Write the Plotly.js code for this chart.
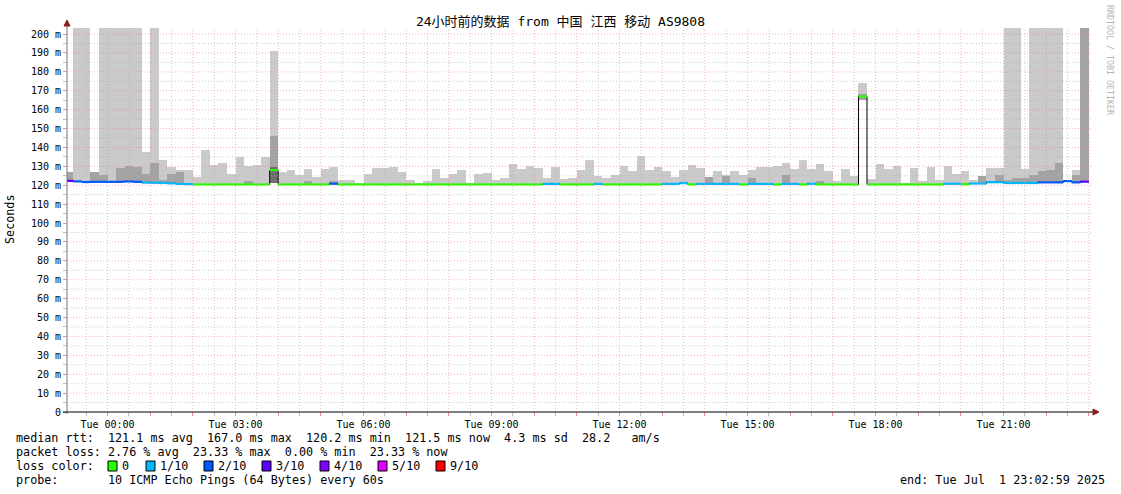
<!DOCTYPE html>
<html><head><meta charset="utf-8">
<script src="https://cdn.plot.ly/plotly-3.0.1.min.js"></script>
<style>html,body{margin:0;padding:0;background:#fff;}#chart{width:1121px;height:494px;}</style>
</head><body><div id="chart"></div>
<script>
// ---------- data (12-minute bins, first bin starts Mon 23:00, i.e. hour -1 relative to Tue 00:00) ----------
const firstBinHour = -1;
const binHours = 0.2;
const medianMs = [
122.3,122.0,121.7,121.8,121.8,121.8,121.8,122.0,121.8,121.4,
121.3,121.2,121.0,120.7,120.6,120.4,120.4,120.4,120.4,120.4,
120.4,120.4,120.4,120.4,128.0,120.4,120.4,120.4,120.4,120.4,
120.4,120.8,120.4,120.4,120.4,120.4,120.4,120.4,120.4,120.4,
120.4,120.4,120.4,120.4,120.4,120.4,120.4,120.4,120.4,120.4,
120.4,120.4,120.4,120.4,120.4,120.4,120.7,120.7,120.4,120.4,
120.4,120.4,120.7,120.4,120.4,120.4,120.4,120.4,120.4,120.4,
120.7,120.7,121.1,120.4,120.7,120.7,120.7,120.7,120.7,120.4,
120.7,120.7,120.7,120.4,120.7,120.7,120.4,120.8,120.4,120.4,
120.4,120.4,120.4,167.0,120.4,120.4,120.4,120.4,120.4,120.4,
120.4,120.4,120.4,120.8,120.8,120.5,120.9,120.9,121.6,121.6,
121.2,121.2,121.2,121.2,121.5,121.5,121.5,122.2,121.5,121.9];
const lossTenths = [
3,2,2,2,2,2,2,2,2,1,
1,1,1,1,1,0,0,0,0,0,
0,0,0,0,0,0,0,0,0,0,
0,2,0,0,0,0,0,0,0,0,
0,0,0,0,0,0,0,0,0,0,
0,0,0,0,0,0,1,1,0,0,
0,0,1,0,0,0,0,0,0,0,
1,1,1,0,1,1,1,1,1,0,
1,1,1,0,1,1,0,1,0,0,
0,0,0,0,0,0,0,0,0,0,
0,0,0,1,1,0,1,1,1,1,
1,1,1,1,2,2,2,2,2,3];
const smokeMaxMs = [
126.9,210,210,126.9,210,210,210,210,210,137.5,
210,133.2,129.8,127.9,127.9,124.1,138.6,130.5,131.6,125.9,
134.8,130.0,130.7,134.8,191.0,126.8,127.9,125.4,128.4,124.3,
128.4,129.6,123.0,123.0,121.4,125.7,128.9,128.9,129.6,126.8,
123.0,121.1,122.0,128.4,123.6,126.2,127.9,121.4,126.2,126.3,
122.6,123.7,131.0,128.5,130.1,129.0,123.7,129.6,123.1,123.7,
128.0,133.3,124.9,123.7,125.3,130.1,127.4,135.4,127.9,129.6,
127.4,124.2,127.9,130.6,129.0,124.2,127.3,125.5,127.3,125.2,
127.9,129.5,129.5,130.0,131.6,128.4,133.2,128.4,131.1,127.3,
122.0,128.6,124.9,174.0,123.2,131.2,128.5,130.1,121.0,129.1,
122.0,129.6,122.8,130.2,125.9,127.5,122.8,124.9,128.9,128.9,
210,210,128.5,210,210,210,210,122.6,128.0,210];
const smokeMidMs = [
126.9,null,null,126.9,125.5,null,129.1,130.0,129.6,125.7,
131.6,122.9,125.7,126.8,null,null,null,null,null,null,
null,122.0,null,null,146.0,null,null,null,122.5,null,
null,122.5,null,null,null,null,null,null,null,null,
null,null,null,null,null,null,null,null,null,null,
null,null,null,null,null,null,null,null,null,null,
null,null,null,null,null,null,null,null,null,null,
null,null,null,null,null,124.2,null,125.0,null,null,
123.6,null,null,null,125.2,null,null,null,122.5,null,
null,null,null,168.3,null,null,null,null,null,null,
null,null,null,null,null,null,null,124.9,null,125.2,
122.8,123.6,123.7,125.3,127.4,128.0,131.7,null,125.3,210];
const smokeMinMs = [
122.3,122.0,121.7,121.8,121.8,121.8,121.8,122.0,121.8,121.4,
121.3,121.2,121.0,120.7,120.6,120.4,120.4,120.4,120.4,120.4,
120.4,120.4,120.4,120.4,121.0,120.4,120.4,120.4,120.4,120.4,
120.4,120.8,120.4,120.4,120.4,120.4,120.4,120.4,120.4,120.4,
120.4,120.4,120.4,120.4,120.4,120.4,120.4,120.4,120.4,120.4,
120.4,120.4,120.4,120.4,120.4,120.4,120.7,120.7,120.4,120.4,
120.4,120.4,120.7,120.4,120.4,120.4,120.4,120.4,120.4,120.4,
120.7,120.7,121.1,120.4,120.7,120.7,120.7,120.7,120.7,120.4,
120.7,120.7,120.7,120.4,120.7,120.7,120.4,120.8,120.4,120.4,
120.4,120.4,120.4,165.0,120.4,120.4,120.4,120.4,120.4,120.4,
120.4,120.4,120.4,120.8,120.8,120.5,120.9,120.9,121.6,121.6,
121.2,121.2,121.2,121.2,121.5,121.5,121.5,122.2,121.5,121.9];
const coreBinIndex = [24];
const coreMinMs = [121.0];
const coreTopMs = [129.5];

const lossLegendLabels = ['0','1/10','2/10','3/10','4/10','5/10','9/10'];
const lossLegendTenths = [0,1,2,3,4,5,9];
const lossColors = {0:'#26ff00',1:'#00b8ff',2:'#0059ff',3:'#5e00ff',4:'#7e00ff',5:'#dd00ff',9:'#ff0000'};

const yTickVals = [0,10,20,30,40,50,60,70,80,90,100,110,120,130,140,150,160,170,180,190,200];
const yTickText = ['0','10 m','20 m','30 m','40 m','50 m','60 m','70 m','80 m','90 m','100 m','110 m','120 m','130 m','140 m','150 m','160 m','170 m','180 m','190 m','200 m'];
const xLabelHours = [0,3,6,9,12,15,18,21];
const xLabelText = ['Tue 00:00','Tue 03:00','Tue 06:00','Tue 09:00','Tue 12:00','Tue 15:00','Tue 18:00','Tue 21:00'];

const titleText = '24小时前的数据 from 中国 江西 移动 AS9808';
const statsMedian = 'median rtt:  121.1 ms avg  167.0 ms max  120.2 ms min  121.5 ms now  4.3 ms sd  28.2   am/s';
const statsLoss = 'packet loss: 2.76 % avg  23.33 % max  0.00 % min  23.33 % now';
const probeLine = 'probe:       10 ICMP Echo Pings (64 Bytes) every 60s';
const endLine = 'end: Tue Jul  1 23:02:59 2025';

// ---------- layout geometry ----------
const L = 67, R = 1091, T = 28, B = 412;
const xr = [-0.95, 23.05];
const yr = [0, 203.2];
const px = x => (x - L) / (R - L);
const py = y => (B - y) / (B - T);
const nb = s => s.replace(/ /g, '\u00a0');
const MONO = 'DejaVu Sans Mono, monospace';

const n = medianMs.length;
const binStart = [];
for (let i = 0; i < n; i++) binStart.push(firstBinHour + i * binHours);

const barCommon = {type:'bar', x: binStart, width: binHours, offset: 0, hoverinfo:'skip', showlegend:false};
const traces = [];
traces.push(Object.assign({}, barCommon, {
  base: smokeMinMs, y: smokeMaxMs.map((v,i)=>v - smokeMinMs[i]),
  marker:{color:'#cacaca', line:{width:0}}
}));
traces.push(Object.assign({}, barCommon, {
  base: smokeMinMs, y: smokeMidMs.map((v,i)=> v===null ? null : v - smokeMinMs[i]),
  marker:{color:'#a3a3a3', line:{width:0}}
}));
traces.push(Object.assign({}, barCommon, {
  x: coreBinIndex.map(i=>binStart[i]), base: coreMinMs, y: coreTopMs.map((v,j)=>v-coreMinMs[j]),
  marker:{color:'#6e6e6e', line:{width:0}}
}));
// black median step line (only its jumps stay visible)
traces.push({type:'scatter', mode:'lines', x: binStart.concat([binStart[n-1]+binHours]),
  y: medianMs.concat([medianMs[n-1]]), line:{color:'#000', width:1, shape:'hv'}, hoverinfo:'skip', showlegend:false});
// loss-coloured median segments, one trace per loss level
lossLegendTenths.forEach(t => {
  const xs = [], ys = [];
  for (let i = 0; i < n; i++) if (lossTenths[i] === t) {
    xs.push(binStart[i], binStart[i] + binHours, null);
    ys.push(medianMs[i], medianMs[i], null);
  }
  if (xs.length) traces.push({type:'scatter', mode:'lines', x: xs, y: ys, connectgaps:false,
    line:{color: lossColors[t], width:2.2}, hoverinfo:'skip', showlegend:false});
});

// ---------- grid shapes (drawn above smoke, as rrdtool does) ----------
const shapes = [];
const majorRed = 'rgba(240,130,130,0.6)';
const minorGrey = 'rgba(175,175,175,0.65)';
const dash = '1px,2px';
for (let h = Math.ceil(xr[0]); h <= xr[1]; h++) {
  shapes.push({type:'line', xref:'x', yref:'paper', x0:h, x1:h, y0:0, y1:1, layer:'above', line:{color:majorRed, width:1, dash}});
}
for (let h = Math.ceil(xr[0]-0.5)+0.5; h <= xr[1]; h++) {
  shapes.push({type:'line', xref:'x', yref:'paper', x0:h, x1:h, y0:0, y1:1, layer:'above', line:{color:minorGrey, width:1, dash}});
}
yTickVals.forEach(v => {
  if (v > 0) shapes.push({type:'line', xref:'paper', yref:'y', x0:0, x1:1, y0:v, y1:v, layer:'above', line:{color:majorRed, width:1, dash}});
  const m = v + 5;
  if (m < yr[1]) shapes.push({type:'line', xref:'paper', yref:'y', x0:0, x1:1, y0:m, y1:m, layer:'above', line:{color:minorGrey, width:1, dash}});
});
// axis lines and arrows
shapes.push({type:'line', xref:'paper', yref:'paper', x0:px(67), x1:px(67), y0:py(414), y1:py(23), layer:'above', line:{color:'#777', width:1}});
shapes.push({type:'line', xref:'paper', yref:'paper', x0:px(63), x1:px(1093), y0:py(412), y1:py(412), layer:'above', line:{color:'#000', width:1}});
shapes.push({type:'path', xref:'paper', yref:'paper', layer:'above', fillcolor:'#8b1a1a', line:{color:'#8b1a1a', width:1},
  path:`M ${px(64)} ${py(26)} L ${px(70)} ${py(26)} L ${px(67)} ${py(20)} Z`});
shapes.push({type:'path', xref:'paper', yref:'paper', layer:'above', fillcolor:'#8b1a1a', line:{color:'#8b1a1a', width:1},
  path:`M ${px(1093)} ${py(409)} L ${px(1093)} ${py(415)} L ${px(1099)} ${py(412)} Z`});

// legend colour boxes
const boxLeft = [108, 146, 204, 262, 320, 378, 436];
const labelLeft = [121, 159, 217, 275, 333, 391, 449];
lossLegendTenths.forEach((t, j) => {
  shapes.push({type:'rect', xref:'paper', yref:'paper', x0:px(boxLeft[j]), x1:px(boxLeft[j]+9), y0:py(471), y1:py(461),
    fillcolor: lossColors[t], line:{color:'#000', width:1}, layer:'above'});
});

// ---------- annotations ----------
const ann = [];
const txt = (text, x, y, opts={}) => ann.push(Object.assign({text: nb(text), x: px(x), y: py(y), xref:'paper', yref:'paper',
  xanchor:'left', yanchor:'middle', showarrow:false, borderpad:0, font:{family:MONO, size:11.75, color:'#000'}}, opts));
txt(statsMedian, 15, 438);
txt(statsLoss, 15, 452);
txt('loss color:', 15, 466);
lossLegendLabels.forEach((s, j) => txt(s, labelLeft[j], 466));
txt(probeLine, 15, 480);
txt(endLine, 1106, 480, {xanchor:'right'});
txt('Seconds', 10, 219, {xanchor:'center', textangle:-90});
txt('RRDTOOL / TOBI OETIKER', 1110, 60, {xanchor:'center', textangle:90, font:{family:MONO, size:8.3, color:'#b5b5b5'}});

const xTickVals = [], xTickText = [];
for (let h = 0; h <= 23; h++) { xTickVals.push(h); const k = xLabelHours.indexOf(h); xTickText.push(k >= 0 ? xLabelText[k] : ''); }

const layout = {
  width:1121, height:494, autosize:false,
  margin:{l:L, r:1121-R, t:T, b:494-B, pad:0},
  paper_bgcolor:'#fff', plot_bgcolor:'#fff',
  barmode:'overlay', bargap:0,
  showlegend:false,
  title:{text:titleText, x:0.5, xref:'container', y:1-21/494, yref:'container', xanchor:'center', yanchor:'middle',
    font:{family:'DejaVu Sans Mono, Noto Sans CJK SC, monospace', size:13, color:'#000'}},
  xaxis:{range:xr, tickmode:'array', tickvals:xTickVals, ticktext:xTickText, showgrid:false, zeroline:false, showline:false,
    ticks:'outside', ticklen:3, tickcolor:'rgba(235,120,120,0.9)', tickfont:{family:MONO, size:10, color:'#000'},
    minor:{tickmode:'linear', tick0:0.5, dtick:1, ticks:'outside', ticklen:3, tickcolor:'#bbb', showgrid:false},
    fixedrange:true},
  yaxis:{range:yr, tickmode:'array', tickvals:yTickVals, ticktext:yTickText, showgrid:false, zeroline:false, showline:false,
    ticks:'outside', ticklen:3, tickcolor:'rgba(235,120,120,0.9)', tickfont:{family:MONO, size:10, color:'#000'},
    minor:{tickmode:'linear', tick0:5, dtick:10, ticks:'outside', ticklen:3, tickcolor:'#bbb', showgrid:false},
    fixedrange:true},
  shapes: shapes,
  annotations: ann
};
Plotly.newPlot('chart', traces, layout, {staticPlot:true, displayModeBar:false});
</script></body></html>
